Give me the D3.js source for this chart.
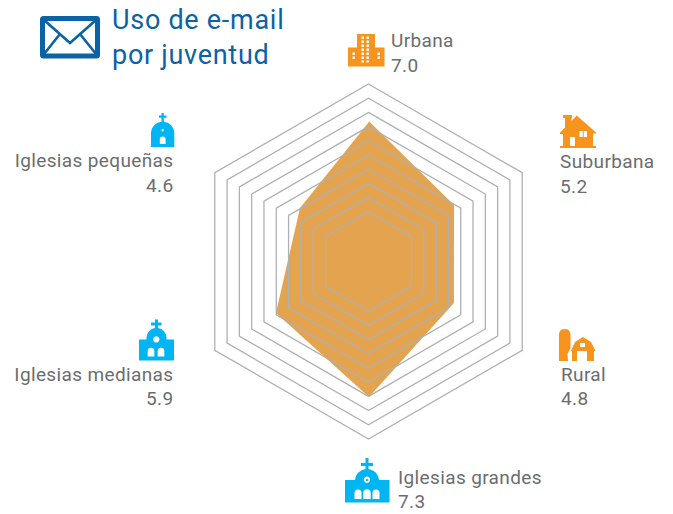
<!DOCTYPE html>
<html>
<head>
<meta charset="utf-8">
<script src="https://cdn.jsdelivr.net/npm/d3@7"></script>
<style>
  html, body { margin: 0; padding: 0; background: #fff; }
  text { font-family: Roboto, sans-serif; }
</style>
</head>
<body>
<svg id="chart" width="673" height="514"></svg>
<script>
// labels and printed values
const categories = ["Urbana", "Suburbana", "Rural", "Iglesias grandes", "Iglesias medianas", "Iglesias pequeñas"];
const printedValues = ["7.0", "5.2", "4.8", "7.3", "5.9", "4.6"];
// the filled shape does not follow the printed numbers or the spokes, so read it off the picture
const shapeValues = [7.36, 4.72, 4.19, 7.04, 4.96, 3.62];
const shapeAngles = [0.3, 56.5, 115.9, 179.8, 240.9, 308];
const rings = [1, 2, 3, 4, 5, 6, 7, 8, 9, 10];
const spokeAngles = [0, 60, 120, 180, 240, 300];
const titleLines = ["Uso de e-mail", "por juventud"];

const svg = d3.select("#chart");
const blue = "#00b5f1", orange = "#f7941e", navy = "#0b62a4", grey = "#6a6d70";

const radius = d3.scaleLinear().domain([0, 10]).range([35.5, 177.5]);
const toRad = d => d * Math.PI / 180;

const radar = svg.append("g").attr("transform", "translate(368.5,261.5)");

const shape = d3.lineRadial()
  .angle((d, i) => toRad(shapeAngles[i]))
  .radius(d => radius(d))
  .curve(d3.curveLinearClosed);

radar.append("path")
  .attr("d", shape(shapeValues))
  .attr("fill", "#e3a34f");

const ringLine = d3.lineRadial()
  .angle(d => toRad(d))
  .curve(d3.curveLinearClosed);

radar.selectAll("path.ring")
  .data(rings)
  .enter()
  .append("path")
  .attr("class", "ring")
  .attr("d", r => ringLine.radius(radius(r))(spokeAngles))
  .attr("fill", "none")
  .attr("stroke", "#aeb0b3")
  .attr("stroke-width", 1.3);

// text blocks, one per category
const labelPos = [
  { x: 391, y: 46.7, y2: 71.5, anchor: "start" },
  { x: 560, y: 167.7, y2: 192.5, anchor: "start" },
  { x: 561, y: 381, y2: 405, anchor: "start" },
  { x: 398, y: 484, y2: 508, anchor: "start" },
  { x: 173.5, y: 381, y2: 405, anchor: "end" },
  { x: 173.5, y: 167, y2: 192, anchor: "end" }
];

const labels = svg.selectAll("g.label")
  .data(categories)
  .enter()
  .append("g")
  .attr("class", "label")
  .attr("fill", grey)
  .attr("font-size", 19)
  .attr("letter-spacing", 0.37)
  .attr("text-anchor", (d, i) => labelPos[i].anchor);

labels.append("text")
  .attr("x", (d, i) => labelPos[i].x)
  .attr("y", (d, i) => labelPos[i].y)
  .text(d => d);

labels.append("text")
  .attr("x", (d, i) => labelPos[i].x)
  .attr("y", (d, i) => labelPos[i].y2)
  .text((d, i) => printedValues[i]);

// title
svg.selectAll("text.title")
  .data(titleLines)
  .enter()
  .append("text")
  .attr("class", "title")
  .attr("x", 112)
  .attr("y", (d, i) => 29 + i * 34.5)
  .attr("font-size", 27)
  .attr("letter-spacing", 0.72)
  .attr("fill", navy)
  .text(d => d);

// envelope
const env = svg.append("g").attr("transform", "translate(40,16)");
env.append("rect").attr("x", 2.5).attr("y", 2.5).attr("width", 55).attr("height", 37.5)
  .attr("rx", 1).attr("fill", "#fff").attr("stroke", navy).attr("stroke-width", 5);
env.append("path").attr("d", "M4,4 L30,27 L56,4 M4,38 L20,18 M56,38 L40,18")
  .attr("fill", "none").attr("stroke", navy).attr("stroke-width", 2.6);

// icons
function icon(x, y, color, solid, holes) {
  const g = svg.append("g").attr("transform", `translate(${x},${y})`);
  g.append("path").attr("d", solid).attr("fill", color);
  g.append("path").attr("d", holes).attr("fill", "#fff");
}
function dots(xs, ys, w, h) {
  let p = "";
  xs.forEach(x => ys.forEach(y => { p += `M${x},${y}h${w}v${h}h${-w}Z`; }));
  return p;
}

// urbana
icon(348, 33.5, orange,
  "M9,0.5H27V14H36.5V33H0V14H9Z",
  dots([13.5, 18.5], [3, 7, 11, 15, 19, 23], 2.4, 2.6) + dots([4.5, 29.5], [19, 23], 2.4, 2.6) +
  dots([13.5, 18.5], [27], 2.4, 2));
// suburbana
icon(560, 115, orange,
  "M3,0H12V3H11.5V6L16.7,0.5L36,17.5V18.5H33V31H36V33H0V31H3V19H0V17.5L5,12.5V3H3Z",
  "M19.5,16H27V22H19.5ZM10,22H15V31H10Z");
svg.append("path").attr("transform", "translate(560,115)")
  .attr("d", "M22.7,16v6h1v-6z").attr("fill", orange);
// rural
icon(559, 328, orange,
  "M0,33V6A5.8,5.8 0 0 1 11.5,6V20L8.5,26L9,33Z" +
  "M13,33V23H12L16,14L24,9L32,14L36.5,23H35V33Z",
  "M18,33V23H28V33ZM21,15H26V19H21Z");
// iglesias grandes
icon(345, 458, blue,
  "M20.5,0H23.5V5H28V8H23.5V11A12,12 0 0 1 34,22H44.5V44.5H0V22H10A12,12 0 0 1 20.5,11V8H16V5H20.5Z",
  "M9.5,41V35A3.5,3.5 0 0 1 16.5,35V41Z M18.3,41V35A3.7,3.7 0 0 1 25.7,35V41Z M27.5,41V35A3.5,3.5 0 0 1 34.5,35V41Z" +
  "M22,18.5A3.2,3.2 0 1 1 21.99,18.5ZM22,20.8A1.2,1.2 0 1 0 22.01,20.8Z");
// iglesias medianas
icon(139, 319.5, blue,
  "M16,0H19V3H22.5V6H19V8.5A10,10 0 0 1 27.5,18V20H35V41H0V20H7.5V18A10,10 0 0 1 16,8.5V6H12V3H16Z",
  "M8.7,37V31.5A3.3,3.3 0 0 1 15.3,31.5V37Z M18.7,37V31.5A3.3,3.3 0 0 1 25.3,31.5V37Z M17.3,16.7A3.2,3.2 0 1 1 17.29,16.7Z");
// iglesias pequeñas
icon(151, 113, blue,
  "M10.5,0H12.8V2.5H15.5V4.7H12.8V8.7A11.6,11.6 0 0 1 23.3,20V34H0V20A11.6,11.6 0 0 1 10.5,8.7V4.7H8V2.5H10.5Z",
  "M8.8,31V26.5A2.9,2.9 0 0 1 14.6,26.5V31Z M11.65,16A1.2,1.2 0 1 1 11.64,16Z");
</script>
</body>
</html>
